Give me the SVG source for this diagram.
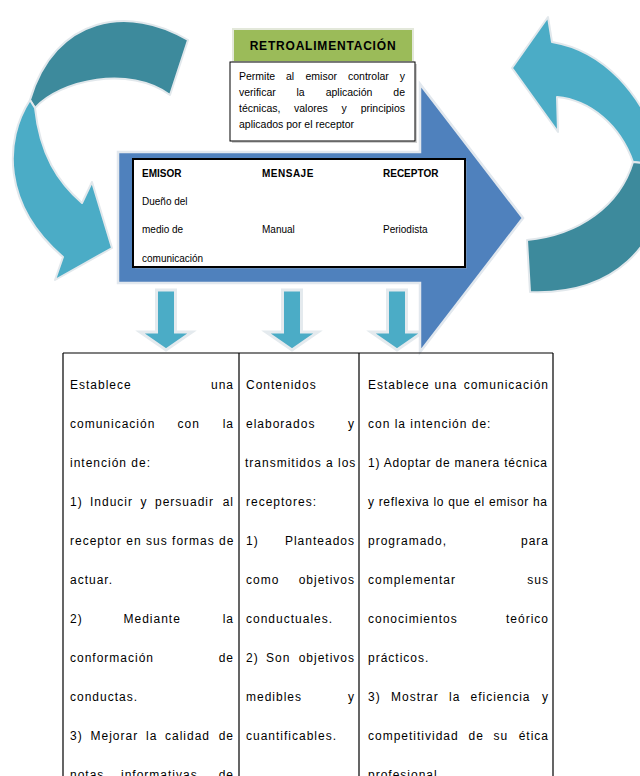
<svg xmlns="http://www.w3.org/2000/svg" width="640" height="776" viewBox="0 0 640 776">
<style>
  .t { font-family: "Liberation Sans", Arial, sans-serif; fill: #000; }
  .hdr { font-size: 10px; font-weight: bold; }
  .cell { font-size: 10px; }
  .desc { font-size: 10.5px; }
  .body { font-size: 12px; letter-spacing: 1px; }
  .dark { fill: #3D8A9C; stroke: #E2E8EC; stroke-width: 2; stroke-linejoin: round; }
  .light { fill: #4BACC6; stroke: #E2E8EC; stroke-width: 2; stroke-linejoin: round; }
  .down { fill: #4BACC6; stroke: #E4EAEE; stroke-width: 3; stroke-linejoin: miter; }
  .grid { stroke: #000; stroke-width: 1.2; fill: none; }
</style>
<rect width="640" height="776" fill="#fff"/>

<g id="connectors">
  <!-- left circular arrow -->
  <path class="dark" d="M188,40 C130,5 55,15 30,100 L35,108 C60,80 130,65 170,95 Z"/>
  <path class="light" d="M30,100 C4,140 2,205 63,257 L55,280 L112,248 L92,182 L82,203 C58,182 40,155 35,108 Z"/>
  <!-- right circular arrow -->
  <path class="light" d="M512,68 L548,17 L552,42 C600,50 645,90 665,165 L633,162 C620,125 590,100 557,97 L558,132 Z"/>
  <path class="dark" d="M633,162 L665,165 C665,250 610,295 530,292 L527,240 C580,235 620,205 633,162 Z"/>
  <!-- down arrows -->
  <path class="down" d="M156.5,290 L175.5,290 L175.5,332 L192,332 L166,350 L140,332 L156.5,332 Z"/>
  <path class="down" d="M282.5,290 L301.5,290 L301.5,332 L318,332 L292,350 L266,332 L282.5,332 Z"/>
  <path class="down" d="M387.5,290 L406.5,290 L406.5,332 L423,332 L397,350 L371,332 L387.5,332 Z"/>
</g>

<g id="node-main">
  <path d="M118,152 L420,152 L420,84 L523,218 L420,352 L420,283 L118,283 Z" fill="#4F81BD" stroke="#E2E8EE" stroke-width="2.5" stroke-linejoin="miter"/>
  <rect x="135" y="161" width="332" height="108" fill="#9AA6B8" opacity="0.35"/>
  <rect x="133" y="159" width="332" height="108" fill="#fff" stroke="#000" stroke-width="2"/>
  <text class="t hdr" x="142" y="177">EMISOR</text>
  <text class="t hdr" x="262" y="177" letter-spacing="0.5">MENSAJE</text>
  <text class="t hdr" x="383" y="177">RECEPTOR</text>
  <text class="t cell" x="142" y="205">Dueño del</text>
  <text class="t cell" x="142" y="233">medio de</text>
  <text class="t cell" x="262" y="233">Manual</text>
  <text class="t cell" x="383" y="233">Periodista</text>
  <text class="t cell" x="142" y="262">comunicación</text>
</g>

<g id="node-retro">
  <rect x="233" y="29" width="180" height="33" fill="#9BBB59" stroke="#E3E8DA" stroke-width="2"/>
  <text class="t" x="323" y="49.5" font-size="12" font-weight="bold" letter-spacing="0.8" text-anchor="middle">RETROALIMENTACIÓN</text>
  <rect x="232" y="64" width="185" height="79" fill="#D0D0D0"/>
  <rect x="230" y="62" width="185" height="79" fill="#fff" stroke="#000" stroke-width="1"/>
  <text class="t desc" y="80"><tspan x="239">Permite</tspan><tspan x="286">al</tspan><tspan x="305.5">emisor</tspan><tspan x="348">controlar</tspan><tspan x="405" text-anchor="end">y</tspan></text>
  <text class="t desc" y="96"><tspan x="239">verificar</tspan><tspan x="296.5">la</tspan><tspan x="325.7">aplicación</tspan><tspan x="405" text-anchor="end">de</tspan></text>
  <text class="t desc" y="112"><tspan x="239">técnicas,</tspan><tspan x="294">valores</tspan><tspan x="341.5">y</tspan><tspan x="405" text-anchor="end">principios</tspan></text>
  <text class="t desc" x="239" y="128">aplicados por el receptor</text>
</g>

<g id="node-table">
  <path class="grid" d="M63,353 L553,353 M63,353 L63,780 M239,353 L239,780 M359,353 L359,780 M553,353 L553,780"/>
  <!-- column 1 -->
  <text class="t body" y="389"><tspan x="70">Establece</tspan><tspan x="234" text-anchor="end">una</tspan></text>
  <text class="t body" y="428"><tspan x="70">comunicación</tspan><tspan x="177.5">con</tspan><tspan x="234" text-anchor="end">la</tspan></text>
  <text class="t body" x="70" y="467">intención de:</text>
  <text class="t body" y="506"><tspan x="70">1)</tspan><tspan x="90">Inducir</tspan><tspan x="140.5">y</tspan><tspan x="155">persuadir</tspan><tspan x="234" text-anchor="end">al</tspan></text>
  <text class="t body" x="70" y="545">receptor en sus formas de</text>
  <text class="t body" x="70" y="584">actuar.</text>
  <text class="t body" y="623"><tspan x="70">2)</tspan><tspan x="123.5">Mediante</tspan><tspan x="234" text-anchor="end">la</tspan></text>
  <text class="t body" y="662"><tspan x="70">conformación</tspan><tspan x="234" text-anchor="end">de</tspan></text>
  <text class="t body" x="70" y="701">conductas.</text>
  <text class="t body" y="740"><tspan x="70">3)</tspan><tspan x="90.5">Mejorar</tspan><tspan x="146">la</tspan><tspan x="165">calidad</tspan><tspan x="234" text-anchor="end">de</tspan></text>
  <text class="t body" y="779"><tspan x="70">notas</tspan><tspan x="121">informativas</tspan><tspan x="234" text-anchor="end">de</tspan></text>
  <!-- column 2 -->
  <text class="t body" x="246" y="389">Contenidos</text>
  <text class="t body" y="428"><tspan x="246">elaborados</tspan><tspan x="355" text-anchor="end">y</tspan></text>
  <text class="t body" x="245" y="467">transmitidos a los</text>
  <text class="t body" x="246" y="506">receptores:</text>
  <text class="t body" y="545"><tspan x="246">1)</tspan><tspan x="355" text-anchor="end">Planteados</tspan></text>
  <text class="t body" y="584"><tspan x="246">como</tspan><tspan x="355" text-anchor="end">objetivos</tspan></text>
  <text class="t body" x="246" y="623">conductuales.</text>
  <text class="t body" y="662"><tspan x="246">2)</tspan><tspan x="266">Son</tspan><tspan x="355" text-anchor="end">objetivos</tspan></text>
  <text class="t body" y="701"><tspan x="246">medibles</tspan><tspan x="355" text-anchor="end">y</tspan></text>
  <text class="t body" x="246" y="740">cuantificables.</text>
  <!-- column 3 -->
  <text class="t body" y="389"><tspan x="368">Establece</tspan><tspan x="434.5">una</tspan><tspan x="549" text-anchor="end">comunicación</tspan></text>
  <text class="t body" x="368" y="428">con la intención de:</text>
  <text class="t body" x="368" y="467" textLength="180" lengthAdjust="spacing" letter-spacing="0">1) Adoptar de manera técnica</text>
  <text class="t body" x="368" y="506" textLength="180" lengthAdjust="spacing" letter-spacing="0">y reflexiva lo que el emisor ha</text>
  <text class="t body" y="545"><tspan x="368">programado,</tspan><tspan x="549" text-anchor="end">para</tspan></text>
  <text class="t body" y="584"><tspan x="368">complementar</tspan><tspan x="549" text-anchor="end">sus</tspan></text>
  <text class="t body" y="623"><tspan x="368">conocimientos</tspan><tspan x="549" text-anchor="end">teórico</tspan></text>
  <text class="t body" x="368" y="662">prácticos.</text>
  <text class="t body" y="701"><tspan x="368">3)</tspan><tspan x="391">Mostrar</tspan><tspan x="449">la</tspan><tspan x="470.5">eficiencia</tspan><tspan x="549" text-anchor="end">y</tspan></text>
  <text class="t body" y="740"><tspan x="368">competitividad</tspan><tspan x="468.5">de</tspan><tspan x="493.5">su</tspan><tspan x="549" text-anchor="end">ética</tspan></text>
  <text class="t body" x="368" y="779">profesional</text>
</g>
</svg>
